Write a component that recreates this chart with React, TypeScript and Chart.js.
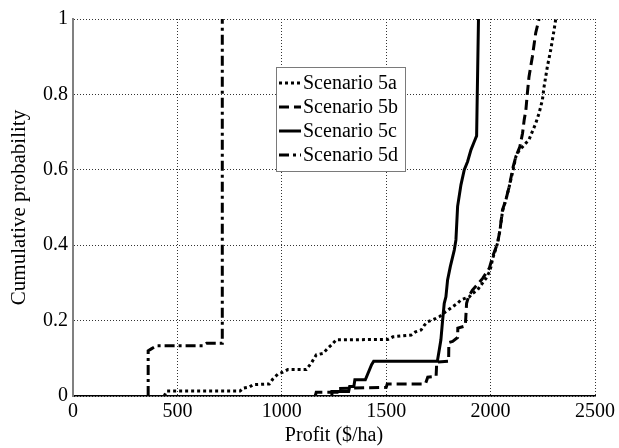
import React, { useEffect, useRef } from "react";
import { Chart, registerables } from "chart.js";

Chart.register(...registerables);

const seriesLabels = ["Scenario 5a", "Scenario 5b", "Scenario 5c", "Scenario 5d"];

const profit5a = [437, 448, 800, 815, 846, 862, 940, 957, 981, 1005, 1029, 1117, 1141, 1165, 1197, 1221, 1237, 1261, 1508, 1532, 1620, 1640, 1667, 1683, 1699, 1739, 1754, 1786, 1818, 1842, 1858, 1898, 1913, 1937, 1954, 1978, 1994, 2002, 2010, 2023, 2033, 2045, 2057, 2073, 2089, 2108, 2121, 2140, 2153, 2184, 2216, 2232, 2248, 2256, 2272, 2288, 2304, 2312];
const prob5a = [0, 0.013, 0.013, 0.021, 0.024, 0.03, 0.032, 0.045, 0.058, 0.063, 0.07, 0.07, 0.087, 0.109, 0.113, 0.127, 0.135, 0.149, 0.15, 0.157, 0.162, 0.17, 0.175, 0.188, 0.197, 0.206, 0.21, 0.224, 0.237, 0.246, 0.255, 0.263, 0.272, 0.281, 0.294, 0.312, 0.329, 0.343, 0.365, 0.387, 0.405, 0.44, 0.49, 0.52, 0.555, 0.6, 0.635, 0.655, 0.661, 0.68, 0.723, 0.75, 0.785, 0.82, 0.874, 0.918, 0.971, 1.0];

const profit5b = [1160, 1165, 1265, 1268, 1500, 1505, 1688, 1699, 1739, 1742, 1799, 1800, 1818, 1842, 1843, 1879, 1885, 1894, 1913, 1962, 1994, 2010, 2033, 2045, 2057, 2073, 2089, 2108, 2121, 2140, 2153, 2161, 2169, 2176, 2184, 2200, 2216, 2232];
const prob5b = [0, 0.01, 0.01, 0.02, 0.023, 0.032, 0.032, 0.05, 0.052, 0.09, 0.092, 0.142, 0.145, 0.155, 0.18, 0.186, 0.246, 0.263, 0.281, 0.312, 0.339, 0.37, 0.405, 0.44, 0.494, 0.52, 0.555, 0.608, 0.635, 0.661, 0.697, 0.733, 0.759, 0.803, 0.847, 0.9, 0.963, 1.0];

const profit5c = [1237, 1240, 1320, 1325, 1345, 1350, 1400, 1430, 1440, 1745, 1754, 1762, 1770, 1778, 1786, 1794, 1807, 1826, 1834, 1842, 1858, 1874, 1890, 1906, 1922, 1933, 1935, 1942];
const prob5c = [0, 0.012, 0.012, 0.025, 0.025, 0.043, 0.043, 0.083, 0.092, 0.092, 0.122, 0.149, 0.2, 0.246, 0.263, 0.308, 0.343, 0.387, 0.414, 0.503, 0.56, 0.6, 0.622, 0.653, 0.675, 0.69, 0.76, 1.0];

const profit5d = [360, 360, 375, 400, 622, 640, 715, 715];
const prob5d = [0, 0.12, 0.125, 0.133, 0.133, 0.14, 0.14, 1.0];

const xTickValues = [0, 500, 1000, 1500, 2000, 2500];
const xTickLabels = ["0", "500", "1000", "1500", "2000", "2500"];
const yTickValues = [0, 0.2, 0.4, 0.6, 0.8, 1];
const yTickLabels = ["0", "0.2", "0.4", "0.6", "0.8", "1"];

const FONT = '"Liberation Serif", "Times New Roman", serif';

function pts(xs: number[], ys: number[]) {
  return xs.map((x, i) => ({ x, y: ys[i] }));
}

const boxLegend = {
  id: "boxLegend",
  afterDatasetsDraw(chart: any) {
    const { ctx, chartArea } = chart;
    const x0 = chartArea.left + 203;
    const y0 = chartArea.top + 48;
    const w = 129;
    const h = 104;
    ctx.save();
    ctx.fillStyle = "#ffffff";
    ctx.fillRect(x0, y0, w, h);
    ctx.strokeStyle = "#7a7a7a";
    ctx.lineWidth = 1;
    ctx.setLineDash([]);
    ctx.strokeRect(x0 + 0.5, y0 + 0.5, w, h);
    ctx.font = "20px " + FONT;
    ctx.textBaseline = "middle";
    ctx.textAlign = "left";
    chart.data.datasets.forEach((ds: any, i: number) => {
      const cy = y0 + 16 + i * 24;
      ctx.strokeStyle = "#000";
      ctx.lineWidth = ds.borderWidth;
      ctx.setLineDash(ds.borderDash || []);
      ctx.beginPath();
      ctx.moveTo(x0 + 3, cy);
      ctx.lineTo(x0 + 25, cy);
      ctx.stroke();
      ctx.setLineDash([]);
      ctx.fillStyle = "#000";
      ctx.fillText(ds.label, x0 + 27, cy + 1);
    });
    ctx.restore();
  },
};

export default function App() {
  const ref = useRef<HTMLCanvasElement | null>(null);
  useEffect(() => {
    if (!ref.current) return;
    Chart.defaults.font.family = FONT;
    const styles = [
      { borderDash: [3, 3], borderWidth: 3 },
      { borderDash: [10, 5], borderWidth: 3 },
      { borderDash: [], borderWidth: 3 },
      { borderDash: [10, 4, 3, 4], borderWidth: 3 },
    ];
    const data = [pts(profit5a, prob5a), pts(profit5b, prob5b), pts(profit5c, prob5c), pts(profit5d, prob5d)];
    const chart = new Chart(ref.current, {
      type: "line",
      data: {
        datasets: data.map((d, i) => ({
          label: seriesLabels[i],
          data: d,
          borderColor: "#000",
          backgroundColor: "#000",
          borderWidth: styles[i].borderWidth,
          borderDash: styles[i].borderDash,
          pointRadius: 0,
          tension: 0,
          fill: false,
        })),
      },
      options: {
        animation: false,
        responsive: false,
        maintainAspectRatio: false,
        layout: { padding: { top: 19, right: 23, left: 0, bottom: 0 } },
        plugins: { legend: { display: false }, tooltip: { enabled: false } },
        scales: {
          x: {
            type: "linear",
            min: 0,
            max: 2500,
            afterFit: (s: any) => { s.height = 52; },
            afterBuildTicks: (s: any) => { s.ticks = xTickValues.map((v) => ({ value: v })); },
            ticks: {
              color: "#000",
              font: { size: 20, family: FONT },
              padding: 4,
              maxRotation: 0,
              callback: (v: any) => { const i = xTickValues.indexOf(Number(v)); return i >= 0 ? xTickLabels[i] : ""; },
            },
            grid: { color: "#333", lineWidth: 1, drawTicks: false },
            border: { display: true, color: "#000", width: 1.5, dash: [1, 2] },
            title: { display: true, text: "Profit ($/ha)", color: "#000", font: { size: 20, family: FONT }, padding: { top: 0, bottom: 0 } },
          },
          y: {
            type: "linear",
            min: 0,
            max: 1,
            afterFit: (s: any) => { s.width = 73; },
            afterBuildTicks: (s: any) => { s.ticks = yTickValues.map((v) => ({ value: v })); },
            ticks: {
              color: "#000",
              font: { size: 20, family: FONT },
              padding: 5,
              callback: (v: any) => { const i = yTickValues.indexOf(Number(v)); return i >= 0 ? yTickLabels[i] : ""; },
            },
            grid: { color: "#333", lineWidth: 1, drawTicks: false },
            border: { display: true, color: "#808080", width: 2, dash: [1, 2] },
            title: { display: true, text: "Cumulative probability", color: "#000", font: { size: 21, family: FONT }, padding: { top: 7, bottom: 0 } },
          },
        },
      },
      plugins: [boxLegend],
    });
    return () => chart.destroy();
  }, []);
  return (
    <div style={{ position: "absolute", left: 0, top: 0, width: 619, height: 448, background: "#fff" }}>
      <canvas ref={ref} width={619} height={448} style={{ width: 619, height: 448, display: "block" }} />
    </div>
  );
}
